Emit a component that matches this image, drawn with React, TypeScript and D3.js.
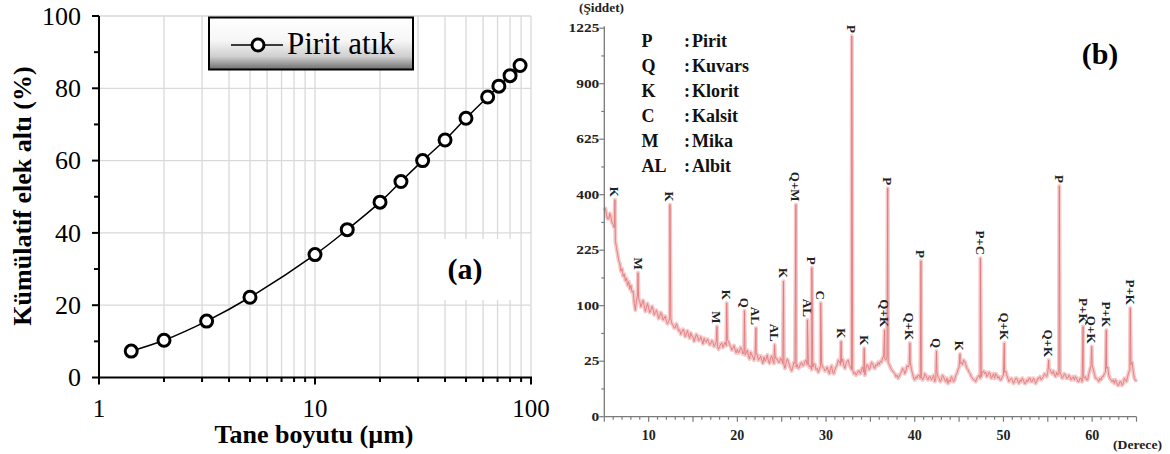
import React from "react";
import * as d3 from "d3";

// ---------- Panel (a): particle size distribution ----------
const sizes = [1.41, 2, 3.15, 5, 10, 14.1, 20, 25, 31.5, 40, 50, 63, 71, 80, 89];
const passing = [7.3, 10.3, 15.6, 22.2, 34.0, 40.9, 48.5, 54.2, 60.0, 65.7, 71.7, 77.6, 80.6, 83.5, 86.3];
const seriesName = "Pirit atık";
const xTicksA = [1, 10, 100];
const yTicksA = [0, 20, 40, 60, 80, 100];
const yMinorA = [10, 30, 50, 70, 90];
const xGridA = [2, 3, 4, 5, 6, 7, 8, 9, 10, 20, 30, 40, 50, 60, 70, 80, 90, 100];

// ---------- Panel (b): XRD pattern (2θ from 5° in 0.125° steps) ----------
const xrdStart = 5;
const xrdStep = 0.125;
const xrdIntensity = [
  345, 352, 330, 318, 318, 335, 322, 305,
  300, 290, 250, 232, 215, 198, 190, 172,
  178, 160, 165, 150, 156, 140, 148, 132,
  140, 126, 128, 104, 92, 110, 120, 112,
  108, 98, 104, 110, 100, 90, 97, 104,
  96, 88, 92, 99, 94, 84, 88, 92,
  86, 78, 82, 88, 84, 76, 79, 82,
  74, 70, 72, 80, 78, 70, 68, 64,
  64, 70, 66, 60, 61, 55, 58, 62,
  59, 52, 56, 60, 54, 50, 57, 53,
  52, 46, 50, 55, 53, 47, 48, 52,
  47, 43, 50, 46, 45, 49, 46, 42,
  43, 47, 45, 40, 42, 46, 40, 37,
  40, 43, 44, 39, 42, 45, 41, 48,
  46, 42, 40, 36, 38, 41, 36, 33,
  37, 33, 35, 39, 37, 32, 34, 31,
  33, 36, 30, 27, 34, 31, 29, 26,
  30, 33, 31, 26, 27, 30, 26, 23,
  29, 25, 27, 31, 25, 23, 28, 30,
  26, 23, 30, 27, 27, 24, 24, 28,
  26, 23, 22, 19, 24, 27, 25, 21,
  19, 17, 20, 24, 23, 20, 22, 19,
  20, 23, 24, 21, 22, 25, 26, 22,
  24, 20, 21, 18, 20, 23, 22, 18,
  19, 16, 18, 21, 23, 20, 19, 17,
  18, 20, 17, 15, 19, 21, 16, 15,
  18, 20, 22, 26, 25, 22, 24, 27,
  21, 19, 23, 25, 26, 22, 20, 18,
  18, 15, 16, 14, 15, 17, 17, 15,
  18, 20, 16, 14, 19, 22, 21, 18,
  20, 24, 23, 20, 19, 22, 21, 24,
  22, 25, 24, 28, 30, 27, 26, 29,
  24, 22, 20, 18, 17, 16, 15, 13,
  14, 12, 13, 15, 16, 19, 18, 15,
  17, 21, 20, 22, 24, 18, 15, 12,
  11, 13, 12, 14, 14, 12, 13, 11,
  12, 15, 14, 12, 11, 13, 13, 11,
  12, 14, 10, 12, 16, 13, 12, 10,
  11, 14, 13, 11, 10, 12, 9, 11,
  10, 13, 12, 10, 11, 14, 15, 18,
  20, 23, 24, 22, 26, 25, 22, 19,
  18, 16, 15, 13, 12, 11, 11, 10,
  12, 13, 14, 12, 13, 16, 17, 15,
  16, 13, 14, 16, 15, 12, 13, 15,
  12, 15, 14, 12, 13, 11, 11, 13,
  14, 16, 17, 14, 12, 10, 11, 12,
  11, 9, 10, 12, 12, 10, 9, 11,
  10, 12, 11, 9, 9, 11, 10, 12,
  12, 10, 10, 12, 11, 9, 10, 12,
  12, 13, 11, 12, 13, 15, 14, 13,
  16, 19, 18, 16, 15, 17, 14, 13,
  16, 14, 15, 16, 14, 12, 13, 15,
  14, 12, 12, 14, 13, 11, 12, 13,
  11, 13, 12, 10, 10, 12, 12, 10,
  14, 12, 13, 11, 11, 15, 18, 21,
  22, 18, 15, 12, 12, 11, 10, 12,
  11, 13, 13, 15, 16, 19, 20, 14,
  12, 11, 10, 11, 9, 11, 10, 8,
  8, 10, 10, 8, 9, 12, 11, 10,
  13, 16, 18, 22, 24, 17, 12, 11,
  10,
];
const peakAngles = [6.2, 8.8, 12.4, 17.7, 18.8, 20.8, 22.1, 24.2, 25.2, 26.6, 27.9, 28.4, 29.4, 31.7, 32.9, 34.3, 36.6, 36.95, 39.45, 40.7, 42.45, 45.1, 47.4, 50.1, 55.1, 56.3, 58.98, 59.95, 61.6, 64.3];
const peakHeights = [382, 168, 365, 66, 105, 91, 64, 42, 149, 365, 76, 180, 105, 46, 1176, 38, 61, 424, 44, 197, 35, 32, 204, 44, 26, 432, 66, 40, 61, 96];
const peakLabels = ["K", "M", "K", "M", "K", "Q", "AL", "AL", "K", "Q+M", "AL", "P", "C", "K", "P", "K", "Q+K", "P", "Q+K", "P", "Q", "K", "P+C", "Q+K", "Q+K", "P", "P+K", "Q+K", "P+K", "P+K"];
const legendCodes = ["P", "Q", "K", "C", "M", "AL"];
const legendNames = ["Pirit", "Kuvars", "Klorit", "Kalsit", "Mika", "Albit"];
const yTicksB = [0, 25, 100, 225, 400, 625, 900, 1225];
const yMinorB = [6.25, 56.25, 156.25, 306.25, 506.25, 756.25, 1056.25];
const xTicksB = [10, 20, 30, 40, 50, 60];

const SERIF = "Liberation Serif";

export default function App() {
  // scales (a)
  const xA = d3.scaleLog().domain([1, 100]).range([99, 531]);
  const yA = d3.scaleLinear().domain([0, 100]).range([377.5, 16]);
  const ptsA: [number, number][] = sizes.map((s, i) => [s, passing[i]]);
  const lineA = d3
    .line<[number, number]>()
    .x((d) => xA(d[0]))
    .y((d) => yA(d[1]))
    .curve(d3.curveCatmullRom.alpha(0.5));

  // scales (b)
  const xB = d3.scaleLinear().domain([5, 65]).range([604.3, 1136.5]);
  const yB = d3.scaleSqrt().domain([0, 1225]).range([416.7, 28.2]);
  const base: [number, number][] = xrdIntensity.map((v, i) => [xrdStart + i * xrdStep, v]);
  const peaks: [number, number][] = peakAngles.map((a, i) => [a, peakHeights[i]]);
  const trace = base.concat(peaks).sort((p, q) => p[0] - q[0]);
  const lineB = d3
    .line<[number, number]>()
    .x((d) => xB(d[0]))
    .y((d) => yB(d[1]));
  const xMinorB = d3.range(5, 66, 1);
  const traceD = lineB(trace) || "";

  return (
    <div style={{ position: "absolute", left: 0, top: 0 }}>
      <svg width={1170} height={454} style={{ display: "block", background: "#fff" }} fontFamily={SERIF}>
        <defs>
          <linearGradient id="legGrad" x1="0" y1="0" x2="0" y2="1">
            <stop offset="0" stopColor="#ffffff" />
            <stop offset="0.45" stopColor="#f6f6f6" />
            <stop offset="0.75" stopColor="#cfcfcf" />
            <stop offset="1" stopColor="#6e6e6e" />
          </linearGradient>
        </defs>

        {/* ================= Panel (a) ================= */}
        <g>
          {xGridA.map((v) => (
            <line key={"gx" + v} x1={xA(v)} x2={xA(v)} y1={yA(100)} y2={yA(0)} stroke="#d9d9d9" strokeWidth={1.3} />
          ))}
          {yTicksA.slice(1).map((v) => (
            <line key={"gy" + v} x1={xA(1)} x2={xA(100)} y1={yA(v)} y2={yA(v)} stroke="#d9d9d9" strokeWidth={1.3} />
          ))}
          <rect x={422} y={239} width={93} height={61} fill="#fff" />
          {/* axes */}
          <line x1={xA(1)} x2={xA(1)} y1={yA(100)} y2={yA(0) + 1} stroke="#000" strokeWidth={2} />
          <line x1={xA(1) - 1} x2={xA(100) + 1} y1={yA(0)} y2={yA(0)} stroke="#000" strokeWidth={2} />
          {yTicksA.map((v) => (
            <line key={"yt" + v} x1={xA(1) - 7} x2={xA(1)} y1={yA(v)} y2={yA(v)} stroke="#000" strokeWidth={2} />
          ))}
          {yMinorA.map((v) => (
            <line key={"ym" + v} x1={xA(1) - 5} x2={xA(1)} y1={yA(v)} y2={yA(v)} stroke="#000" strokeWidth={2} />
          ))}
          {xGridA.concat([1]).map((v) => {
            const major = xTicksA.includes(v);
            return (
              <line key={"xt" + v} x1={xA(v)} x2={xA(v)} y1={yA(0)} y2={yA(0) + (major ? 7 : 4.5)} stroke="#000" strokeWidth={2} />
            );
          })}
          {yTicksA.map((v) => (
            <text key={"yl" + v} x={81} y={yA(v)} dy="0.34em" textAnchor="end" fontSize={26} fill="#000">
              {v}
            </text>
          ))}
          {xTicksA.map((v) => (
            <text key={"xl" + v} x={xA(v)} y={417} textAnchor="middle" fontSize={25} fill="#000">
              {v}
            </text>
          ))}
          <text x={314} y={443} textAnchor="middle" fontSize={26} fontWeight="bold">
            Tane boyutu (µm)
          </text>
          <text transform={`translate(31,196) rotate(-90)`} textAnchor="middle" fontSize={26} fontWeight="bold">
            Kümülatif elek altı (%)
          </text>
          {/* series */}
          <path d={lineA(ptsA) || ""} fill="none" stroke="#000" strokeWidth={1.5} />
          {ptsA.map((d, i) => (
            <circle key={"pt" + i} cx={xA(d[0])} cy={yA(d[1])} r={6} fill="#fff" stroke="#000" strokeWidth={3} />
          ))}
          {/* legend */}
          <rect x={209} y={17.5} width={204} height={52} fill="url(#legGrad)" stroke="#000" strokeWidth={2} />
          <line x1={231} x2={283} y1={45} y2={45} stroke="#000" strokeWidth={1.5} />
          <circle cx={258} cy={45} r={6} fill="#fff" stroke="#000" strokeWidth={3} />
          <text x={287} y={54} fontSize={31} fill="#000">
            {seriesName}
          </text>
          <text x={465} y={279} textAnchor="middle" fontSize={30} fontWeight="bold">
            (a)
          </text>
        </g>

        {/* ================= Panel (b) ================= */}
        <g>
          <path d={traceD} fill="none" stroke="#f5c9c9" strokeWidth={4} strokeLinejoin="round" />
          <path d={traceD} fill="none" stroke="#e07a7e" strokeWidth={0.9} strokeLinejoin="round" />
          {/* axes */}
          <line x1={xB(5)} x2={xB(5)} y1={yB(1225) - 2} y2={yB(0)} stroke="#7a7a7a" strokeWidth={1.3} />
          <line x1={xB(5)} x2={xB(65)} y1={yB(0)} y2={yB(0)} stroke="#7a7a7a" strokeWidth={1.3} />
          {yTicksB.map((v) => (
            <line key={"byt" + v} x1={xB(5) - 5} x2={xB(5)} y1={yB(v)} y2={yB(v)} stroke="#7a7a7a" strokeWidth={1.2} />
          ))}
          {yMinorB.map((v) => (
            <line key={"bym" + v} x1={xB(5) - 3} x2={xB(5)} y1={yB(v)} y2={yB(v)} stroke="#7a7a7a" strokeWidth={1.2} />
          ))}
          {xMinorB.map((v) => (
            <line key={"bxt" + v} x1={xB(v)} x2={xB(v)} y1={yB(0)} y2={yB(0) + (v % 5 === 0 ? 5 : 3)} stroke="#7a7a7a" strokeWidth={1.2} />
          ))}
          {yTicksB.map((v) => (
            <text
              key={"byl" + v}
              transform={`translate(${xB(5) - 5},${yB(v)}) scale(1.28,1)`}
              dy="0.34em"
              textAnchor="end"
              fontSize={12}
              fontWeight="bold"
              fill="#222"
            >
              {v}
            </text>
          ))}
          {xTicksB.map((v) => (
            <text key={"bxl" + v} x={xB(v)} y={440} textAnchor="middle" fontSize={14} fontWeight="bold" fill="#222">
              {v}
            </text>
          ))}
          <text x={1113} y={449} textLength={49} lengthAdjust="spacingAndGlyphs" fontSize={12.5} fontWeight="bold" fill="#222">
            (Derece)
          </text>
          <text x={579} y={12} textLength={45} lengthAdjust="spacingAndGlyphs" fontSize={11.5} fontWeight="bold" fill="#222">
            (Şiddet)
          </text>
          {/* peak labels */}
          {peakAngles.map((a, i) => (
            <text
              key={"pl" + i}
              transform={`translate(${xB(a)},${yB(peakHeights[i]) - 3}) rotate(90)`}
              textAnchor="end"
              dominantBaseline="central"
              fontSize={13}
              fontWeight="bold"
              fill="#222"
            >
              {peakLabels[i]}
            </text>
          ))}
          {/* legend */}
          {legendCodes.map((c, i) => (
            <g key={"lg" + c} fontSize={18} fontWeight="bold" fill="#111">
              <text x={641.5} y={46.7 + i * 25}>{c}</text>
              <text x={684} y={46.7 + i * 25}>:</text>
              <text x={692} y={46.7 + i * 25}>{legendNames[i]}</text>
            </g>
          ))}
          <text x={1100} y={64} textAnchor="middle" fontSize={30} fontWeight="bold">
            (b)
          </text>
        </g>
      </svg>
    </div>
  );
}
